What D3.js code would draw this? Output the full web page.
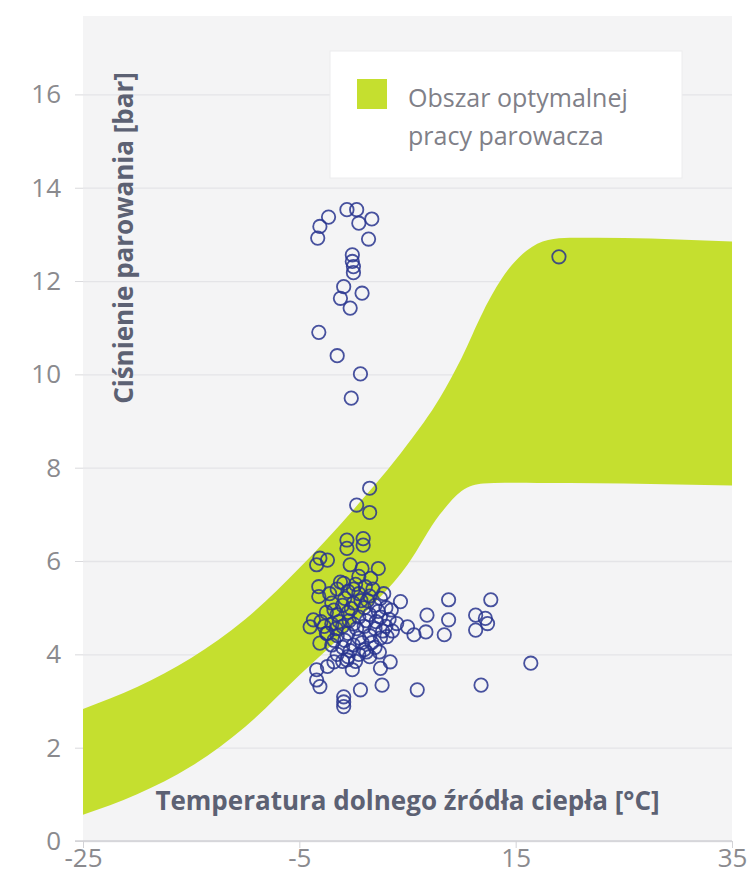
<!DOCTYPE html>
<html lang="pl">
<head>
<meta charset="UTF-8">
<title>Obszar optymalnej pracy parowacza</title>
<script src="https://d3js.org/d3.v7.min.js"></script>
<style>
    body { margin: 0; background: #fff; }
    svg { display: block; font-family: "Open Sans", sans-serif; }
</style>
</head>
<body>
<svg id="chart" width="751" height="875"></svg>
<script>
    // osie
    const xTicks = [-25, -5, 15, 35];
    const yTicks = [0, 2, 4, 6, 8, 10, 12, 14, 16];

    // obszar optymalnej pracy (dolna i górna granica)
    const bandTemp = [-25, -20, -15, -10, -5, 0, 5, 8, 10, 12, 14, 16, 18, 20, 25, 30, 35];
    const bandLow  = [0.56, 1.0, 1.6, 2.45, 3.55, 4.65, 5.92, 7.0, 7.5, 7.66, 7.68, 7.68, 7.67, 7.67, 7.66, 7.64, 7.62];
    const bandHigh = [2.83, 3.3, 3.92, 4.75, 5.85, 7.1, 8.5, 9.5, 10.35, 11.35, 12.15, 12.65, 12.88, 12.93, 12.92, 12.89, 12.85];

    // punkty pomiarowe [temperatura, ciśnienie]
    const measured = [
        [-0.6, 13.53], [0.3, 13.53], [-2.3, 13.37], [1.7, 13.33], [-3.1, 13.17], [0.5, 13.24],
        [-3.3, 12.92], [1.4, 12.9], [-0.1, 12.56], [-0.1, 12.42], [0.0, 12.31], [0.0, 12.18],
        [-0.9, 11.88], [0.8, 11.74], [-1.2, 11.63], [-0.3, 11.42], [-3.2, 10.9], [-1.5, 10.4],
        [0.65, 10.01], [-0.2, 9.49], [19.0, 12.52],
        [1.5, 7.56], [0.3, 7.2], [1.5, 7.04], [-0.6, 6.45], [0.9, 6.48], [-0.6, 6.27], [0.9, 6.34],
        [-3.1, 6.06], [-2.4, 6.02], [-3.4, 5.92], [-0.3, 5.92], [0.8, 5.84], [2.3, 5.84], [0.5, 5.67],
        [1.6, 5.63], [-3.2, 5.45], [-0.9, 5.52], [-3.2, 5.24],
        [-1.5, 5.4], [-0.5, 5.35], [0.5, 5.3], [1.5, 5.25], [2.5, 5.2], [-2.0, 5.1], [-1.0, 5.05],
        [0.0, 5.1], [1.0, 5.0], [2.0, 5.05], [3.0, 5.0], [-2.5, 4.9], [-1.5, 4.85], [-0.5, 4.9],
        [0.5, 4.8], [1.5, 4.85], [2.5, 4.8], [3.3, 4.75], [-3.0, 4.7], [-2.0, 4.65], [-1.0, 4.6],
        [0.0, 4.65], [1.0, 4.6], [2.0, 4.55], [3.0, 4.6], [-2.5, 4.45], [-1.5, 4.4], [-0.5, 4.45],
        [0.5, 4.35], [1.5, 4.4], [2.5, 4.35], [-2.0, 4.2], [-1.0, 4.15], [0.0, 4.2], [1.0, 4.1],
        [2.0, 4.15], [-1.5, 4.0], [-0.5, 3.95], [0.5, 4.0], [1.5, 3.95],
        [-1.2, 5.55], [0.2, 5.5], [1.1, 5.45], [-0.8, 5.2], [0.7, 5.15], [1.8, 5.4], [2.8, 5.3],
        [-1.8, 4.95], [-0.2, 4.98], [1.2, 4.72], [2.3, 4.92], [-2.7, 4.6], [-1.3, 4.7], [0.3, 4.55],
        [1.7, 4.25], [2.7, 4.5], [-0.8, 4.3], [0.8, 4.25], [-1.8, 4.3], [-0.3, 4.08], [1.2, 4.05],
        [2.4, 4.05], [-1.0, 3.85], [0.2, 3.85], [3.5, 4.95], [3.6, 4.5], [-2.2, 5.3], [0.0, 5.4],
        [1.3, 5.15], [-0.4, 4.72], [2.1, 4.7], [-1.6, 4.55],
        [4.35, 5.13], [8.8, 5.17], [12.7, 5.17], [6.8, 4.84], [8.8, 4.74], [11.3, 4.84], [12.2, 4.77],
        [12.4, 4.66], [5.0, 4.59], [5.6, 4.42], [6.7, 4.48], [8.4, 4.42], [11.3, 4.52], [4.0, 4.66],
        [3.1, 4.38], [16.4, 3.81], [11.8, 3.34], [5.9, 3.24], [2.65, 3.34], [3.4, 3.84], [2.5, 3.7],
        [0.65, 3.24], [-0.9, 3.09], [-0.9, 2.98], [-0.9, 2.88], [-3.4, 3.45], [-3.1, 3.31],
        [-2.4, 3.74], [-1.8, 3.84], [-0.6, 3.88], [-0.1, 3.67], [-3.4, 3.67], [-3.7, 4.74],
        [-4.0, 4.59], [-3.1, 4.24], [-2.4, 4.45]
    ];

    const legendLines = ["Obszar optymalnej", "pracy parowacza"];

    const margin = {top: 16, left: 83},
          width = 649, height = 825;

    const svg = d3.select("#chart");
    const g = svg.append("g").attr("transform", `translate(${margin.left},${margin.top})`);

    const x = d3.scaleLinear().domain([-25, 35]).range([0, width]);
    const y = d3.scaleLinear().domain([0, 17.68]).range([height, 0]);

    g.append("rect").attr("width", width).attr("height", height).attr("fill", "#f4f4f5");

    // siatka + oś Y
    const yAxis = g.append("g")
        .call(d3.axisLeft(y).tickValues(yTicks).tickSize(8).tickPadding(14));
    yAxis.select(".domain").remove();
    yAxis.selectAll(".tick line").attr("stroke", "#d9d9dc");
    yAxis.selectAll(".tick text").attr("fill", "#8a8a8e").attr("font-size", 26)
        .attr("font-family", "Open Sans");
    yAxis.selectAll(".tick").append("line")
        .attr("x2", width).attr("stroke", "#e4e4e7").attr("stroke-width", 1.3);

    // obszar
    const band = bandTemp.map((t, i) => ({t: t, lo: bandLow[i], hi: bandHigh[i]}));
    g.append("path")
        .datum(band)
        .attr("fill", "#c5df2f")
        .attr("d", d3.area()
            .x(d => x(d.t))
            .y0(d => y(d.lo))
            .y1(d => y(d.hi))
            .curve(d3.curveMonotoneX));

    // oś X
    const xAxis = g.append("g")
        .attr("transform", `translate(0,${height})`)
        .call(d3.axisBottom(x).tickValues(xTicks).tickFormat(d => String(d))
            .tickSize(7).tickPadding(1));
    xAxis.select(".domain").attr("stroke", "#d2d2d6").attr("stroke-width", 1.5)
        .attr("d", `M-8,0H${width}`);
    xAxis.selectAll(".tick line").attr("stroke", "#d2d2d6");
    xAxis.selectAll(".tick text").attr("fill", "#8a8a8e").attr("font-size", 26)
        .attr("font-family", "Open Sans");

    // punkty
    g.append("g").selectAll("circle")
        .data(measured)
        .join("circle")
        .attr("cx", d => x(d[0]))
        .attr("cy", d => y(d[1]))
        .attr("r", 6.7)
        .attr("fill", "none")
        .attr("stroke", "#28348e")
        .attr("stroke-opacity", 0.85)
        .attr("stroke-width", 1.8);

    // tytuły osi
    g.append("text")
        .attr("transform", `translate(${133 - margin.left},${238 - margin.top}) rotate(-90)`)
        .attr("text-anchor", "middle")
        .attr("font-size", 26).attr("font-weight", 700)
        .attr("fill", "#5c6173")
        .text("Ciśnienie parowania [bar]");

    g.append("text")
        .attr("x", width / 2).attr("y", 810 - margin.top)
        .attr("text-anchor", "middle")
        .attr("font-size", 26).attr("font-weight", 700)
        .attr("fill", "#5c6173")
        .text("Temperatura dolnego źródła ciepła [°C]");

    // legenda
    const leg = svg.append("g").attr("transform", "translate(330,51)");
    leg.append("rect").attr("width", 352).attr("height", 127)
        .attr("fill", "#fff").attr("stroke", "#ececee");
    leg.append("rect").attr("x", 27).attr("y", 28).attr("width", 30).attr("height", 30)
        .attr("fill", "#c5df2f");
    leg.selectAll("text.l").data(legendLines).join("text")
        .attr("class", "l")
        .attr("x", 78).attr("y", (d, i) => 56 + i * 38)
        .attr("font-size", 25).attr("fill", "#808088")
        .text(d => d);
</script>
</body>
</html>
